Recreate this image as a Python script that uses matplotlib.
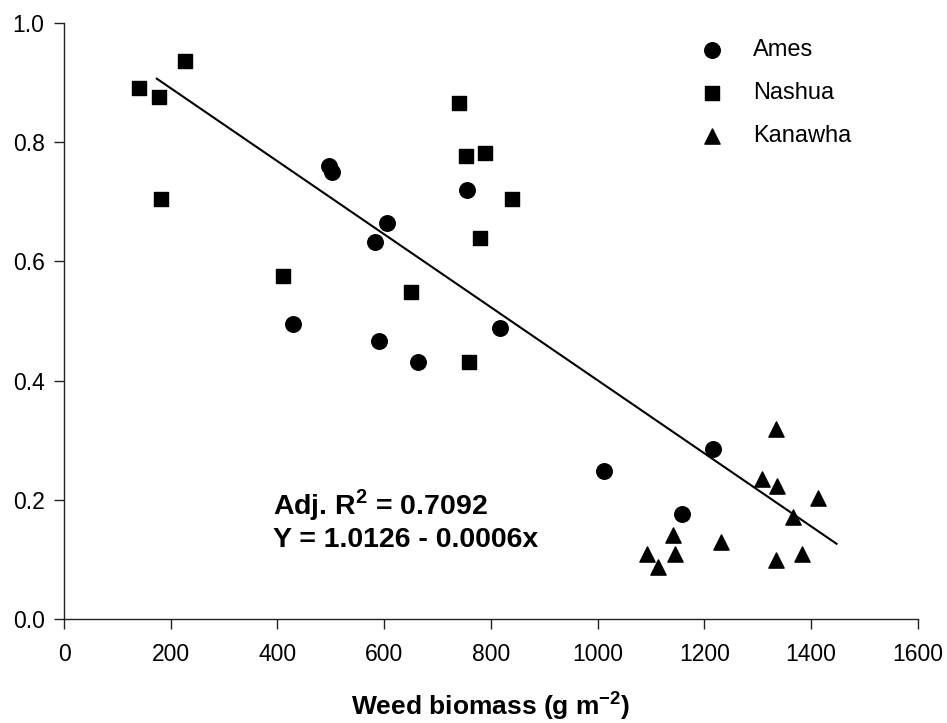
import numpy as np
import matplotlib
matplotlib.use("Agg")
import matplotlib.pyplot as plt
from matplotlib.ticker import FormatStrFormatter

plt.rcParams.update({
    "font.family": ["Liberation Sans", "DejaVu Sans"],
    "mathtext.fontset": "custom",
    "mathtext.rm": "Liberation Sans",
    "mathtext.bf": "Liberation Sans:bold",
    "axes.spines.top": False, "axes.spines.right": False,
})

# --- data ---
ames_x = [496, 502, 756, 605, 583, 430, 590, 663, 818, 1013, 1216, 1158]
ames_y = [0.759, 0.749, 0.720, 0.665, 0.632, 0.495, 0.467, 0.431, 0.488, 0.248, 0.285, 0.176]

nashua_x = [141, 178, 227, 182, 410, 650, 741, 753, 790, 839, 780, 760]
nashua_y = [0.890, 0.875, 0.935, 0.704, 0.575, 0.549, 0.865, 0.777, 0.782, 0.704, 0.639, 0.431]

kanawha_x = [1335, 1309, 1337, 1414, 1367, 1142, 1232, 1093, 1146, 1113, 1383, 1334]
kanawha_y = [0.318, 0.235, 0.224, 0.203, 0.172, 0.141, 0.129, 0.109, 0.109, 0.088, 0.109, 0.099]

# fitted line as drawn
REG_INTERCEPT = 1.0126
REG_SLOPE = -0.000612
reg_x = np.array([174, 1448])

x_ticks = [0, 200, 400, 600, 800, 1000, 1200, 1400, 1600]
y_ticks = [0.0, 0.2, 0.4, 0.6, 0.8, 1.0]

fig = plt.figure(figsize=(9.47, 7.23), dpi=100)
ax = fig.add_subplot(111)
fig.subplots_adjust(left=0.0676, right=0.969, bottom=0.1436, top=0.9686)

ax.scatter(ames_x, ames_y, marker="o", s=125, color="black", zorder=3, label="Ames")
ax.scatter(nashua_x, nashua_y, marker="s", s=95, color="black", zorder=3, label="Nashua")
ax.scatter(kanawha_x, kanawha_y, marker="^", s=120, color="black", zorder=3, label="Kanawha")
ax.plot(reg_x, REG_INTERCEPT + REG_SLOPE * reg_x, color="black", lw=1.5, zorder=2)

ax.set_xlim(0, 1600); ax.set_ylim(0, 1.0)
ax.set_xticks(x_ticks); ax.set_yticks(y_ticks)
ax.yaxis.set_major_formatter(FormatStrFormatter("%.1f"))
ax.tick_params(axis="both", direction="out", length=7, width=1, labelsize=16.5, color="#222222")
ax.tick_params(axis="x", pad=10)
ax.tick_params(axis="y", pad=7)
for sp in ("left", "bottom"):
    ax.spines[sp].set_linewidth(1.0)
    ax.spines[sp].set_color("#222222")

ax.set_xlabel(r"Weed biomass (g m$^{\bf{-2}}$)", fontsize=19, fontweight="bold", labelpad=17)

ax.text(392, 0.176, r"Adj. R$^{\bf{2}}$ = 0.7092", fontsize=20.5, fontweight="bold", va="baseline")
ax.text(392, 0.1215, "Y = 1.0126 - 0.0006x", fontsize=20.5, fontweight="bold", va="baseline")

ax.legend(loc="upper left", bbox_to_anchor=(0.745, 0.972), frameon=False, fontsize=17,
          handlelength=1.0, handletextpad=1.25, labelspacing=0.88, borderpad=0,
          borderaxespad=0, scatterpoints=1)

fig.savefig("out.png", dpi=100, facecolor="white")
